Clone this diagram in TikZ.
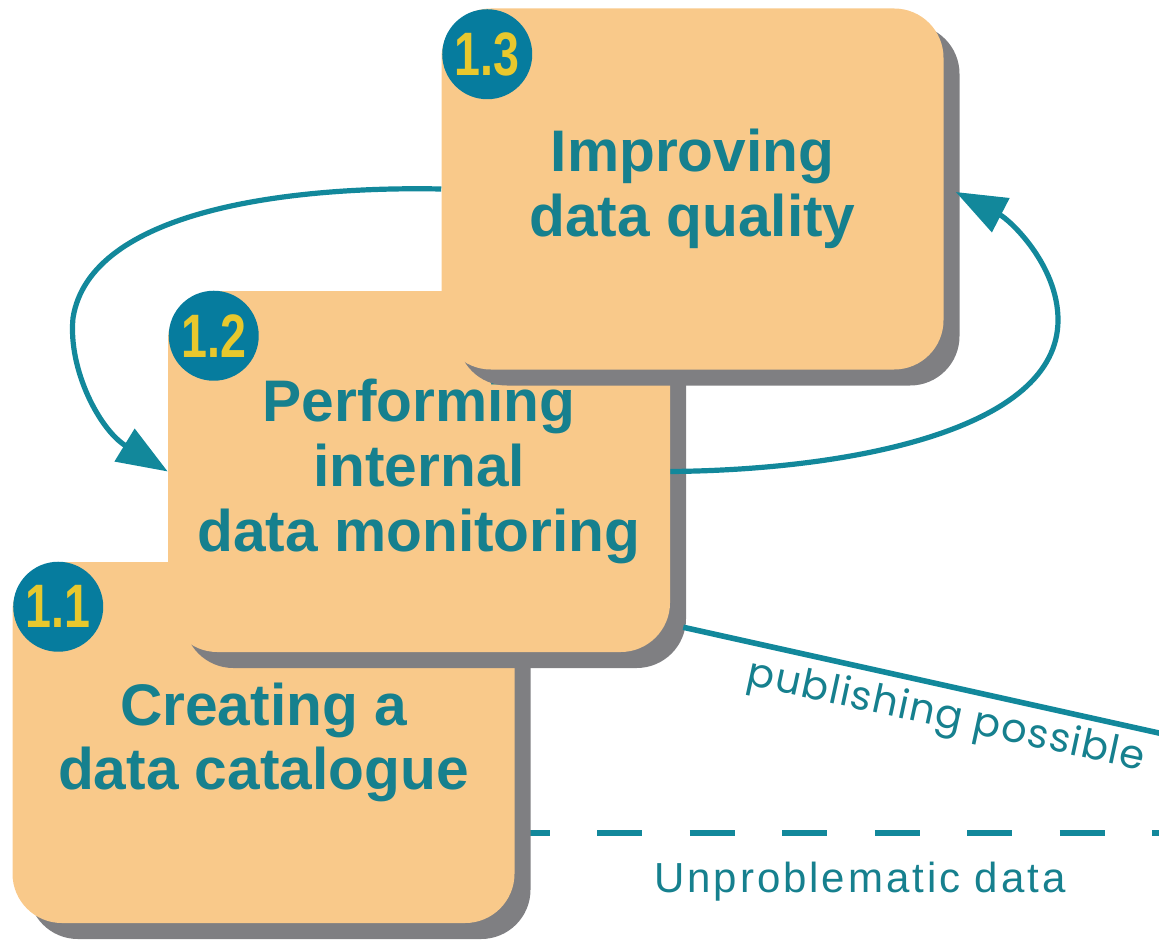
\documentclass[tikz,border=0pt]{standalone}
\usepackage{fontspec}
\setmainfont{Liberation Sans}
\newfontfamily\popfont[LetterSpace=3]{Poppins}
\newfontfamily\spacedfont[LetterSpace=7]{Liberation Sans}
\usepackage{graphicx}
\usetikzlibrary{arrows.meta,shadows}
\definecolor{boxorange}{RGB}{249,201,138}
\definecolor{shadowgray}{RGB}{127,127,130}
\definecolor{tealtext}{RGB}{22,128,142}
\definecolor{tealline}{RGB}{18,136,155}
\definecolor{circleblue}{RGB}{6,124,158}
\definecolor{numyellow}{RGB}{232,200,45}
\tikzset{
  stagebox/.style={fill=boxorange, rounded corners=37pt, minimum width=376.5pt,
    minimum height=270.75pt, inner sep=0pt, align=center, text=tealtext,
    font=\fontsize{44}{48.5}\selectfont\bfseries,
    general shadow={fill=shadowgray, shadow xshift=12pt, shadow yshift=-12pt}},
  numdot/.style={circle, fill=circleblue, minimum size=67.5pt, inner sep=0pt,
    text=numyellow, font=\fontsize{46}{46}\selectfont\bfseries},
  flow/.style={draw=tealline, line width=3.9pt, -{Triangle[length=38pt,width=28pt]}},
  publine/.style={draw=tealline, line width=4.2pt},
  dashline/.style={draw=tealline, line width=4.3pt, dash pattern=on 33.75pt off 35.6pt},
  pubtext/.style={text=tealtext, font=\popfont\fontsize{30}{31}\selectfont, inner sep=0pt},
  unptext/.style={text=tealtext, font=\spacedfont\fontsize{31.5}{32}\selectfont, inner sep=0pt}
}
\begin{document}
\begin{tikzpicture}[x=0.75pt,y=-0.75pt]
\useasboundingbox (0,0) rectangle (1159,941);
% dashed line (behind box 1.1)
\coordinate (dstart) at (505,833);
\coordinate (dend) at (1180,833);
\draw[dashline] (dstart) -- (dend);
% boxes
\node[stagebox] (b1) at (263.5,742.5) {Creating a\\data catalogue};
\node[stagebox] (b2) at (419,471.5) {Performing\\internal\\data monitoring};
\node[stagebox] (b3) at (692.5,189) {Improving\\data quality};
% number dots
\node[numdot] (n1) at ([shift={(46,45)}]b1.north west) {\scalebox{0.76}[1]{1.1}};
\node[numdot] (n2) at ([shift={(46,45)}]b2.north west) {\scalebox{0.76}[1]{1.2}};
\node[numdot] (n3) at ([shift={(46,46)}]b3.north west) {\scalebox{0.76}[1]{1.3}};
% loop arrows
\draw[flow] (b3.west) .. controls (290,186) and (90,210) .. (73,318)
  .. controls (68,370) and (100,430) .. (b2.west);
\draw[flow] (b2.east) .. controls (850,470) and (1058,430) .. (1058,320)
  .. controls (1058,265) and (1010,220) .. ([shift={(12,3)}]b3.east);
% publishing line
\coordinate (pubend) at (1175,736.6);
\draw[publine] ([shift={(13,-25)}]b2.south east) -- (pubend);
\node[pubtext, rotate=-12.2] (pub) at (946,718) {publishing possible};
\node[unptext, anchor=base] (unp) at (860,892) {Unproblematic data};
\end{tikzpicture}
\end{document}
